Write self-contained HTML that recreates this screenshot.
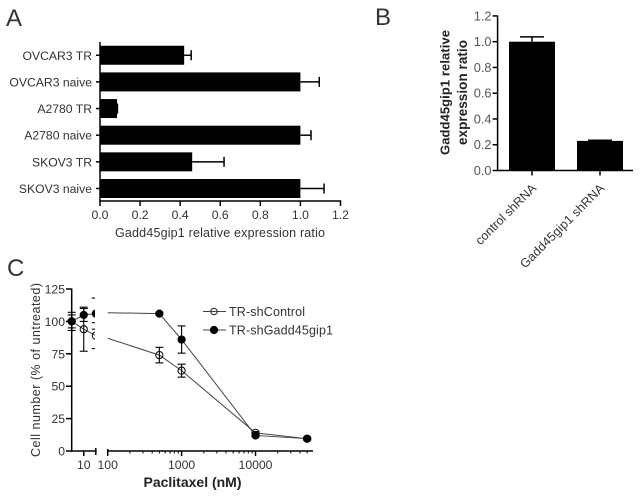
<!DOCTYPE html>
<html>
<head>
<meta charset="utf-8">
<style>
html,body{margin:0;padding:0;background:#fff}
svg{display:block}
text{font-family:"Liberation Sans",sans-serif;fill:#333}
</style>
</head>
<body>
<svg id="fig" xmlns="http://www.w3.org/2000/svg" width="641" height="498" viewBox="0 0 641 498">
<defs>
<clipPath id="clipLeft"><rect x="58" y="280" width="37" height="175"/></clipPath>
</defs>
</svg>
<script>
// Panel A data
const aCategories = ['SKOV3 naive','SKOV3 TR','A2780 naive','A2780 TR','OVCAR3 naive','OVCAR3 TR'];
const aValues = [1.0,0.46,1.0,0.085,1.0,0.42];
const aErrors = [0.118,0.159,0.053,0.002,0.094,0.035];
const aTicks = [0,0.2,0.4,0.6,0.8,1.0,1.2];
// Panel B data
const bCategories = ['control shRNA','Gadd45gip1 shRNA'];
const bValues = [1.0,0.23];
const bErrors = [0.037,0.005];
const bTicks = [0,0.2,0.4,0.6,0.8,1.0,1.2];
// Panel C data
const cYTicks = [0,25,50,75,100,125];
const cLeftDoses = [5,10,20];
const cRightDoses = [500,1000,10000,50000];
const cOpenLeft = [100,94,89];
const cOpenLeftErr = [5,17,10];
const cOpenAt100 = 87;
const cOpenRight = [74,62,14,9.5];
const cOpenRightErr = [6,5,1,1];
const cFilledLeft = [100,105,106];
const cFilledLeftErr = [7,5,12];
const cFilledAt100 = 106.7;
const cFilledRight = [106,86,12,9.5];
const cFilledRightErr = [1,10.5,1,1];
const cMajorDoses = [100,1000,10000];
const cMinorDoses = [200,300,400,500,600,700,800,900,2000,3000,4000,5000,6000,7000,8000,9000,20000,30000,40000,50000];

const svg = document.getElementById('fig');
const NS = 'http://www.w3.org/2000/svg';

function add(parent, tag, attrs, name, text) {
  const el = document.createElementNS(NS, tag);
  for (const k in attrs) el.setAttribute(k, attrs[k]);
  
  
  if (text !== undefined) el.textContent = text;
  parent.appendChild(el);
  return el;
}
function group(name, attrs) {
  return add(svg, 'g', attrs || {}, name);
}
function seg(p, x1, y1, x2, y2, name, w, color) {
  return add(p, 'line', {x1, y1, x2, y2, stroke: color || '#000', 'stroke-width': w || 1.5}, name);
}
function label(p, x, y, s, size, anchor, name, extra) {
  const attrs = Object.assign({x, y, 'font-size': size, 'text-anchor': anchor || 'middle'}, extra || {});
  return add(p, 'text', attrs, name, s);
}

// Panel letters
label(svg, 6, 26, 'A', 24, 'start', 'panel-a-label');
label(svg, 375, 25, 'B', 24, 'start', 'panel-b-label');
label(svg, 7, 276, 'C', 24, 'start', 'panel-c-label');

// ---------- Panel A ----------
const xA = v => 100 + 200.4 * v;
const yA = i => 188.5 - 26.65 * i;
const gA = group('panel-a-chart');
aCategories.forEach((c, i) => {
  add(gA, 'rect', {x: xA(0), y: yA(i) - 9.5, width: xA(aValues[i]) - xA(0), height: 19, fill: '#000'}, 'bar-' + c.toLowerCase().replace(/ /g, '-'));
  const hi = xA(aValues[i] + aErrors[i]);
  seg(gA, xA(aValues[i]), yA(i), hi, yA(i), 'error-bar');
  seg(gA, hi, yA(i) - 5, hi, yA(i) + 5, 'error-cap');
  seg(gA, 100, yA(i), 96, yA(i), 'y-tick');
  label(gA, 92, yA(i) + 4.5, c, 12.2, 'end', 'y-tick-label');
});
seg(gA, 100, 42, 100, 201.5, 'y-axis');
seg(gA, 99.3, 201, xA(1.2) + 0.7, 201, 'x-axis');
aTicks.forEach(t => {
  seg(gA, xA(t), 201, xA(t), 206, 'x-tick');
  label(gA, xA(t), 219, t.toFixed(1), 12.2, 'middle', 'x-tick-label');
});
label(gA, 220, 237, 'Gadd45gip1 relative expression ratio', 12.5, 'middle', 'x-axis-title', {textLength: 210, lengthAdjust: 'spacing'});

// ---------- Panel B ----------
const yB = v => 170.5 - 128.8 * v;
const xB = i => 532 + 68 * i;
const bLabelLengths = [80, 113];
const gB = group('panel-b-chart');
bCategories.forEach((c, i) => {
  add(gB, 'rect', {x: xB(i) - 23, y: yB(bValues[i]), width: 46, height: yB(0) - yB(bValues[i]), fill: '#000'}, 'bar-' + c.toLowerCase().replace(/ /g, '-'));
  const hi = yB(bValues[i] + bErrors[i]);
  seg(gB, xB(i), yB(bValues[i]), xB(i), hi, 'error-bar');
  seg(gB, xB(i) - 12, hi, xB(i) + 12, hi, 'error-cap');
  seg(gB, xB(i), 170.5, xB(i), 175.5, 'x-tick');
  label(gB, xB(i) + 5, 189, c, 12.5, 'end', 'x-tick-label', {transform: 'rotate(-45 ' + (xB(i) + 5) + ' 189)', textLength: bLabelLengths[i], lengthAdjust: 'spacing'});
});
seg(gB, 497.6, 15.5, 497.6, 171, 'y-axis');
seg(gB, 497, 170.5, 633, 170.5, 'x-axis');
bTicks.forEach(t => {
  seg(gB, 497.6, yB(t), 492.6, yB(t), 'y-tick');
  label(gB, 491.5, yB(t) + 4.5, t.toFixed(1), 12.8, 'end', 'y-tick-label', {style: 'fill:#555'});
});
label(gB, 0, 0, 'Gadd45gip1 relative', 13, 'middle', 'y-axis-title-line-1', {transform: 'translate(449.5 92.5) rotate(-90)', 'font-weight': 'bold', textLength: 125, lengthAdjust: 'spacing', style: 'fill:#222'});
label(gB, 0, 0, 'expression ratio', 13.5, 'middle', 'y-axis-title-line-2', {transform: 'translate(467 92.5) rotate(-90)', 'font-weight': 'bold', textLength: 105, lengthAdjust: 'spacing', style: 'fill:#222'});

// ---------- Panel C ----------
const yC = v => 451 - 1.296 * v;
const xL = d => 71.7 + 40 * Math.log10(d / 5);
const xR = d => 107.7 + 73.9 * Math.log10(d / 100);
const gC = group('panel-c-chart');
const gLeft = add(gC, 'g', {'clip-path': 'url(#clipLeft)'}, 'left-axis-segment-series');
const gRight = add(gC, 'g', {}, 'right-axis-segment-series');

function drawSeries(name, leftVals, leftErr, at100, rightVals, rightErr, filled) {
  const leftPts = cLeftDoses.map((d, i) => xL(d) + ',' + yC(leftVals[i])).join(' ');
  add(gLeft, 'polyline', {points: leftPts, fill: 'none', stroke: '#444', 'stroke-width': 1}, name + '-line-left');
  const rightPts = [xR(100) + ',' + yC(at100)].concat(cRightDoses.map((d, i) => xR(d) + ',' + yC(rightVals[i]))).join(' ');
  add(gRight, 'polyline', {points: rightPts, fill: 'none', stroke: '#444', 'stroke-width': 1}, name + '-line-right');
  function mark(p, x, v, e) {
    const t = yC(v + e), b = yC(v - e);
    seg(p, x, t, x, b, name + '-error-bar', 1.1);
    seg(p, x - 4, t, x + 4, t, name + '-error-cap', 1.1);
    seg(p, x - 4, b, x + 4, b, name + '-error-cap', 1.1);
    add(p, 'circle', {cx: x, cy: yC(v), r: 3.6, fill: filled ? '#000' : 'none', stroke: '#000', 'stroke-width': 1}, name + '-point');
  }
  cLeftDoses.forEach((d, i) => mark(gLeft, xL(d), leftVals[i], leftErr[i]));
  cRightDoses.forEach((d, i) => mark(gRight, xR(d), rightVals[i], rightErr[i]));
}
drawSeries('tr-shcontrol', cOpenLeft, cOpenLeftErr, cOpenAt100, cOpenRight, cOpenRightErr, false);
drawSeries('tr-shgadd45gip1', cFilledLeft, cFilledLeftErr, cFilledAt100, cFilledRight, cFilledRightErr, true);

seg(gC, 71.7, 288.5, 71.7, 451.7, 'y-axis');
cYTicks.forEach(t => {
  seg(gC, 71.7, yC(t), 66, yC(t), 'y-tick');
  label(gC, 65, yC(t) + 4.5, String(t), 12.2, 'end', 'y-tick-label');
});
seg(gC, 71, 451, 96.7, 451, 'x-axis-left-segment');
seg(gC, xL(10), 451, xL(10), 456, 'x-tick');
seg(gC, xL(20), 448, xL(20), 455, 'x-axis-break-tick');
label(gC, xL(10), 469, '10', 12.2, 'middle', 'x-tick-label');
seg(gC, 107, 451, 313, 451, 'x-axis-right-segment');
cMajorDoses.forEach(d => {
  seg(gC, xR(d), d === 100 ? 449 : 451, xR(d), 456, 'x-tick');
  label(gC, xR(d), 469, String(d), 12.2, 'middle', 'x-tick-label');
});
cMinorDoses.forEach(d => {
  seg(gC, xR(d), 451, xR(d), 453.5, 'x-minor-tick', 1);
});
label(gC, 0, 0, 'Cell number (% of untreated)', 12.5, 'middle', 'y-axis-title', {transform: 'translate(40 370) rotate(-90)', textLength: 174, lengthAdjust: 'spacing'});
label(gC, 192.5, 487, 'Paclitaxel (nM)', 14, 'middle', 'x-axis-title', {'font-weight': 'bold', textLength: 98, lengthAdjust: 'spacing', style: 'fill:#222'});

// Legend
const gLeg = group('legend');
seg(gLeg, 203, 311.5, 226, 311.5, 'legend-line-shcontrol', 1, '#444');
add(gLeg, 'circle', {cx: 214, cy: 311.5, r: 3.2, fill: 'none', stroke: '#222', 'stroke-width': 1}, 'legend-marker-shcontrol');
label(gLeg, 229, 316, 'TR-shControl', 12.5, 'start', 'legend-entry-shcontrol', {textLength: 76, lengthAdjust: 'spacing'});
seg(gLeg, 203, 330, 226, 330, 'legend-line-shgadd45gip1', 1, '#444');
add(gLeg, 'circle', {cx: 214, cy: 330, r: 3.6, fill: '#000', stroke: '#000', 'stroke-width': 1}, 'legend-marker-shgadd45gip1');
label(gLeg, 229, 334.5, 'TR-shGadd45gip1', 12.5, 'start', 'legend-entry-shgadd45gip1', {textLength: 104, lengthAdjust: 'spacing'});
</script>
</body>
</html>
